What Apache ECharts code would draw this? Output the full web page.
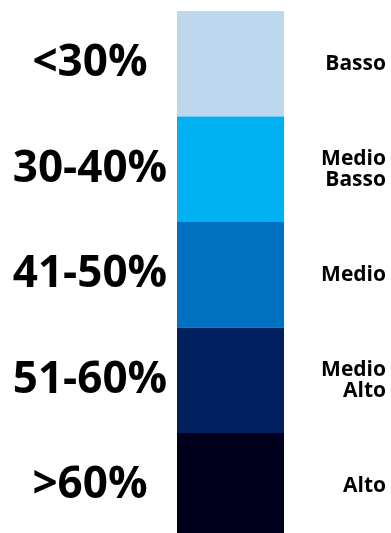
<!DOCTYPE html>
<html>
<head>
<meta charset="utf-8">
<script src="https://cdn.jsdelivr.net/npm/echarts@6/dist/echarts.min.js"></script>
<style>
  html, body { margin: 0; padding: 0; background: #fff; }
  #chart { width: 391px; height: 533px; }
</style>
</head>
<body>
<div id="chart"></div>
<script>
const ranges = ['<30%', '30-40%', '41-50%', '51-60%', '>60%']
const levels = ['Basso', 'Medio\nBasso', 'Medio', 'Medio\nAlto', 'Alto']
const bandValues = [1, 1, 1, 1, 1]
const bandColors = ['#bdd7ee', '#00b0f0', '#0070c0', '#002060', '#00001e']

const chart = echarts.init(document.getElementById('chart'))

const option = {
  animation: false,
  grid: { left: 177, width: 107, top: 11, height: 527.5, outerBoundsMode: 'none' },
  xAxis: { type: 'value', min: 0, max: 1, show: false },
  yAxis: [
    {
      type: 'category',
      data: ranges,
      inverse: true,
      position: 'left',
      axisLine: { show: false },
      axisTick: { show: false },
      axisLabel: {
        align: 'center',
        margin: 87,
        fontFamily: 'Open Sans',
        fontWeight: 'bold',
        fontSize: 44,
        color: '#000'
      }
    },
    {
      type: 'category',
      data: levels,
      inverse: true,
      position: 'right',
      axisLine: { show: false },
      axisTick: { show: false },
      axisLabel: {
        align: 'right',
        margin: 102,
        fontFamily: 'Open Sans',
        fontWeight: 'bold',
        fontSize: 21,
        lineHeight: 21,
        color: '#000'
      }
    }
  ],
  series: [
    {
      type: 'bar',
      barWidth: '100%',
      data: bandValues.map((v, i) => ({ value: v, itemStyle: { color: bandColors[i] } }))
    }
  ]
}

chart.setOption(option)
</script>
</body>
</html>
